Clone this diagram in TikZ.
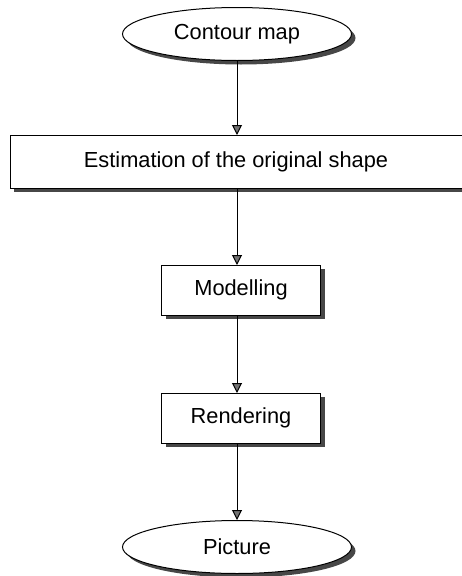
\documentclass[tikz,border=0pt]{standalone}
\usepackage{fontspec}
\setmainfont{Liberation Sans}
\usetikzlibrary{shapes.geometric,shadows,arrows.meta}
\begin{document}
\begin{tikzpicture}[x=1pt,y=-1pt,
  txt/.style={font=\fontsize{21.8}{24}\selectfont},
  shade/.style={drop shadow={shadow xshift=4pt,shadow yshift=-4pt,fill=black!72,opacity=1}},
  term/.style={ellipse,draw,line width=1pt,fill=white,shade,minimum width=229pt,minimum height=53pt,inner sep=0pt,txt},
  proc/.style={rectangle,draw,line width=1pt,fill=white,shade,inner sep=0pt,txt},
  flow/.style={draw,line width=1pt,-{Triangle[length=10pt,width=10pt,fill=black!55]}}]
\useasboundingbox (0,0) rectangle (462,576);
\node[term] (contour) at (237,34) {Contour map};
\node[proc,minimum width=460pt,minimum height=53pt] (estim) at (240,161.5) {};
\node[txt] (estimtext) at (236,162) {Estimation of the original shape};
\node[proc,minimum width=159pt,minimum height=50pt] (model) at (241,290) {Modelling};
\node[proc,minimum width=159pt,minimum height=50pt] (render) at (241,418) {Rendering};
\node[term] (picture) at (237,547) {Picture};
\draw[flow] (contour.south) -- (237,135);
\draw[flow] (237,188) -- (237,265);
\draw[flow] (237,315) -- (237,393);
\draw[flow] (237,443) -- (picture.north);
\end{tikzpicture}
\end{document}
